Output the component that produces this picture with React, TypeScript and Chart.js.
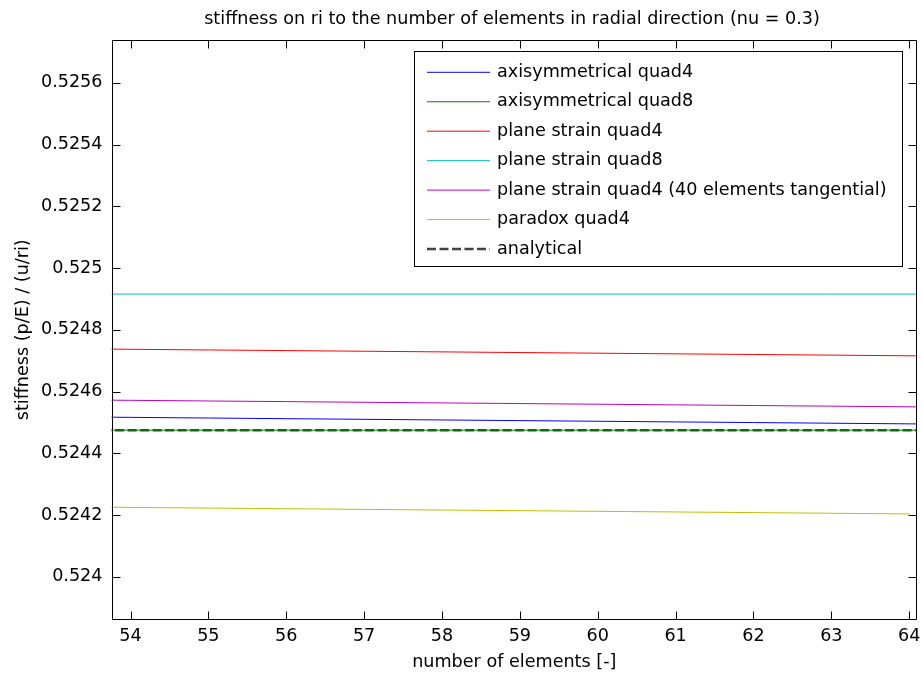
import React, { useEffect, useRef } from "react";
import { Chart, registerables } from "chart.js";

Chart.register(...registerables);

const chartTitle = "stiffness on ri to the number of elements in radial direction (nu = 0.3)";
const xAxisTitle = "number of elements [-]";
const yAxisTitle = "stiffness (p/E) / (u/ri)";

const elements = [53, 54, 55, 56, 57, 58, 59, 60, 61, 62, 63, 64, 65];
const elementsParadox = [53, 54, 55, 56, 57, 58, 59, 60, 61, 62, 63, 64];

const axisymQuad4 = [0.5245188, 0.5245167, 0.5245146, 0.5245125, 0.5245104, 0.5245083, 0.5245062, 0.5245041, 0.524502, 0.5244999, 0.5244978, 0.5244957, 0.5244936];
const axisymQuad8 = [0.5244752, 0.5244752, 0.5244752, 0.5244751, 0.5244751, 0.5244751, 0.5244751, 0.5244751, 0.5244751, 0.5244751, 0.5244751, 0.5244751, 0.5244751];
const planeQuad4 = [0.5247393, 0.5247372, 0.5247351, 0.524733, 0.5247309, 0.5247288, 0.5247267, 0.5247246, 0.5247225, 0.5247204, 0.5247183, 0.5247162, 0.5247141];
const planeQuad8 = [0.524916, 0.524916, 0.524916, 0.524916, 0.524916, 0.524916, 0.524916, 0.524916, 0.524916, 0.524916, 0.524916, 0.524916, 0.524916];
const planeQuad4Tang40 = [0.524574, 0.5245719, 0.5245698, 0.5245677, 0.5245656, 0.5245635, 0.5245614, 0.5245593, 0.5245572, 0.5245551, 0.524553, 0.5245509, 0.5245488];
const paradoxQuad4 = [0.5242271, 0.524225, 0.5242229, 0.5242208, 0.5242187, 0.5242166, 0.5242145, 0.5242124, 0.5242103, 0.5242082, 0.5242061, 0.524204];
const analytical = [0.5244751, 0.5244751, 0.5244751, 0.5244751, 0.5244751, 0.5244751, 0.5244751, 0.5244751, 0.5244751, 0.5244751, 0.5244751, 0.5244751, 0.5244751];

const seriesLabels = [
  "axisymmetrical quad4",
  "axisymmetrical quad8",
  "plane strain quad4",
  "plane strain quad8",
  "plane strain quad4 (40 elements tangential)",
  "paradox quad4",
  "analytical",
];

const xTicks = [54, 55, 56, 57, 58, 59, 60, 61, 62, 63, 64];
const xTickLabels = ["54", "55", "56", "57", "58", "59", "60", "61", "62", "63", "64"];
const yTicks = [0.524, 0.5242, 0.5244, 0.5246, 0.5248, 0.525, 0.5252, 0.5254, 0.5256];
const yTickLabels = ["0.524", "0.5242", "0.5244", "0.5246", "0.5248", "0.525", "0.5252", "0.5254", "0.5256"];

const X_MIN = 53.756;
const X_MAX = 64.1;
const Y_MIN = 0.523862;
const Y_MAX = 0.525739;

const FONT = '"DejaVu Sans", sans-serif';
const FS = 17.6;

const toPts = (xs: number[], ys: number[]) => ys.map((v, i) => ({ x: xs[i], y: v }));

const framePlugin = {
  id: "frameAndLegend",
  afterDatasetsDraw(chart: any) {
    const { ctx, chartArea } = chart;
    const xs = chart.scales.x;
    const ys = chart.scales.y;
    const L = Math.round(chartArea.left) + 0.5;
    const R = Math.round(chartArea.right) - 0.5;
    const T = Math.round(chartArea.top) + 0.5;
    const B = Math.round(chartArea.bottom) - 0.5;
    ctx.save();
    ctx.setLineDash([]);
    ctx.strokeStyle = "#000";
    ctx.lineWidth = 1;
    ctx.beginPath();
    ctx.rect(L, T, R - L, B - T);
    const tl = 8;
    xs.ticks.forEach((t: any) => {
      const px = Math.round(xs.getPixelForValue(t.value)) + 0.5;
      ctx.moveTo(px, B);
      ctx.lineTo(px, B - tl);
      ctx.moveTo(px, T);
      ctx.lineTo(px, T + tl);
    });
    ys.ticks.forEach((t: any) => {
      const py = Math.round(ys.getPixelForValue(t.value)) + 0.5;
      ctx.moveTo(L, py);
      ctx.lineTo(L + tl, py);
      ctx.moveTo(R, py);
      ctx.lineTo(R - tl, py);
    });
    ctx.stroke();

    // title
    ctx.fillStyle = "#000";
    ctx.font = `${FS}px ${FONT}`;
    ctx.textAlign = "center";
    ctx.textBaseline = "alphabetic";
    ctx.fillText(chartTitle, 512, 24);

    // legend
    const bx = 414.5, by = 51.5, bw = 488, bh = 215;
    ctx.fillStyle = "#fff";
    ctx.fillRect(bx, by, bw, bh);
    ctx.strokeStyle = "#000";
    ctx.lineWidth = 1;
    ctx.strokeRect(bx, by, bw, bh);
    ctx.textAlign = "left";
    chart.data.datasets.forEach((ds: any, i: number) => {
      const y = 72.3 + i * 29.45;
      ctx.save();
      ctx.strokeStyle = ds.borderColor;
      ctx.lineWidth = ds.borderWidth;
      ctx.setLineDash(ds.borderDash || []);
      ctx.beginPath();
      ctx.moveTo(427, y);
      ctx.lineTo(490, y);
      ctx.stroke();
      ctx.restore();
      ctx.fillStyle = "#000";
      ctx.fillText(ds.label, 497, y + 4.6);
    });
    ctx.restore();
  },
};

export default function App() {
  const ref = useRef<HTMLCanvasElement | null>(null);
  useEffect(() => {
    if (!ref.current) return;
    Chart.defaults.font.family = FONT;
    Chart.defaults.font.size = FS;
    Chart.defaults.color = "#000";
    const mk = (label: string, xs: number[], ys: number[], color: string, extra: any = {}) => ({
      label,
      data: toPts(xs, ys),
      borderColor: color,
      backgroundColor: color,
      borderWidth: 1,
      pointRadius: 0,
      fill: false,
      tension: 0,
      ...extra,
    });
    const chart = new Chart(ref.current, {
      type: "line",
      data: {
        datasets: [
          mk(seriesLabels[0], elements, axisymQuad4, "#0000ff"),
          mk(seriesLabels[1], elements, axisymQuad8, "#008000"),
          mk(seriesLabels[2], elements, planeQuad4, "#ff0000"),
          mk(seriesLabels[3], elements, planeQuad8, "#00bfbf"),
          mk(seriesLabels[4], elements, planeQuad4Tang40, "#bf00bf"),
          mk(seriesLabels[5], elementsParadox, paradoxQuad4, "#bfbf00"),
          mk(seriesLabels[6], elements, analytical, "#404040", { borderWidth: 2.5, borderDash: [9, 3.5] }),
        ],
      },
      options: {
        animation: false,
        responsive: false,
        events: [],
        layout: { padding: { top: 40, right: 6, bottom: 0, left: 0 } },
        plugins: {
          legend: { display: false },
          title: { display: false },
          tooltip: { enabled: false },
        },
        scales: {
          x: {
            type: "linear",
            min: X_MIN,
            max: X_MAX,
            grid: { display: false, drawTicks: false },
            border: { display: false },
            afterBuildTicks: (s: any) => {
              s.ticks = xTicks.map((v) => ({ value: v }));
            },
            afterFit: (s: any) => {
              s.height = 59.5;
              s.paddingLeft = 0;
              s.paddingRight = 0;
            },
            ticks: {
              padding: 6,
              maxRotation: 0,
              autoSkip: false,
              callback: (_v: any, i: number) => xTickLabels[i],
              font: { size: FS, family: FONT },
              color: "#000",
            },
            title: {
              display: true,
              text: xAxisTitle,
              font: { size: FS, family: FONT },
              color: "#000",
              padding: { top: 0, bottom: 6 },
            },
          },
          y: {
            type: "linear",
            position: "left",
            min: Y_MIN,
            max: Y_MAX,
            grid: { display: false, drawTicks: false },
            border: { display: false },
            afterBuildTicks: (s: any) => {
              s.ticks = yTicks.map((v) => ({ value: v }));
            },
            afterFit: (s: any) => {
              s.width = 111.5;
              s.paddingTop = 0;
              s.paddingBottom = 0;
            },
            ticks: {
              padding: 9,
              crossAlign: "near",
              autoSkip: false,
              callback: (_v: any, i: number) => yTickLabels[i],
              font: { size: FS, family: FONT },
              color: "#000",
            },
            title: {
              display: true,
              text: yAxisTitle,
              font: { size: FS, family: FONT },
              color: "#000",
              padding: { top: 12.5, bottom: 0 },
            },
          },
        },
      },
      plugins: [framePlugin],
    } as any);
    return () => chart.destroy();
  }, []);
  return (
    <div style={{ position: "absolute", left: 0, top: 0, width: 923, height: 679, background: "#fff" }}>
      <canvas ref={ref} width={923} height={679} style={{ display: "block", width: 923, height: 679 }} />
    </div>
  );
}
